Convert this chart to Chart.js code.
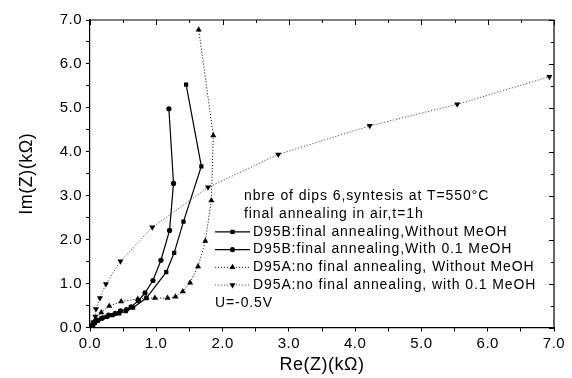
<!DOCTYPE html>
<html>
<head>
<meta charset="utf-8">
<script src="https://cdn.jsdelivr.net/npm/chart.js@4.4.0/dist/chart.umd.min.js"></script>
<style>
  html, body { margin: 0; padding: 0; background: #fff; }
</style>
</head>
<body>
<canvas id="chart" width="572" height="378"></canvas>
<script>
// legend / annotation text
const headerLines = ['nbre of dips 6,syntesis at T=550°C', 'final annealing in air,t=1h'];
const footerLine = 'U=-0.5V';
const seriesLabels = [
  'D95B:final annealing,Without MeOH',
  'D95B:final annealing,With 0.1 MeOH',
  'D95A:no final annealing, Without MeOH',
  'D95A:no final annealing, with 0.1 MeOH'
];

// axis ticks (kOhm)
const xTicks = [0, 1, 2, 3, 4, 5, 6, 7];
const yTicks = [0, 1, 2, 3, 4, 5, 6, 7];

// D95B, final annealing, without MeOH (squares)
const reB0 = [0.02, 0.04, 0.07, 0.11, 0.17, 0.25, 0.34, 0.44, 0.54, 0.65, 0.85, 1.15, 1.27, 1.41, 1.68, 1.45];
const imB0 = [0.02, 0.07, 0.12, 0.16, 0.20, 0.24, 0.28, 0.32, 0.37, 0.45, 0.67, 1.26, 1.70, 2.41, 3.67, 5.53];

// D95B, final annealing, with 0.1 MeOH (circles)
const reB1 = [0.02, 0.04, 0.07, 0.12, 0.19, 0.28, 0.38, 0.46, 0.55, 0.62, 0.73, 0.83, 0.95, 1.07, 1.20, 1.26, 1.19];
const imB1 = [0.01, 0.05, 0.10, 0.16, 0.22, 0.28, 0.32, 0.38, 0.41, 0.47, 0.61, 0.79, 1.07, 1.53, 2.21, 3.28, 4.98];

// D95A, no final annealing, without MeOH (up triangles)
const reA0 = [0.03, 0.08, 0.17, 0.29, 0.47, 0.72, 0.85, 0.98, 1.17, 1.29, 1.40, 1.51, 1.63, 1.74, 1.83, 1.86, 1.64];
const imA0 = [0.05, 0.18, 0.34, 0.49, 0.59, 0.65, 0.67, 0.67, 0.67, 0.70, 0.82, 1.02, 1.39, 1.97, 2.89, 4.37, 6.78];

// D95A, no final annealing, with 0.1 MeOH (down triangles)
const reA1 = [0.02, 0.05, 0.08, 0.09, 0.15, 0.24, 0.46, 0.94, 1.78, 2.84, 4.22, 5.54, 6.93];
const imA1 = [0.04, 0.12, 0.25, 0.42, 0.67, 0.99, 1.51, 2.28, 3.19, 3.94, 4.59, 5.08, 5.71];

const FONT = '"Liberation Sans", Arial, sans-serif';

function pts(xs, ys) {
  return xs.map((x, i) => ({ x: x, y: ys[i] }));
}

const datasets = [
  { label: seriesLabels[0], data: pts(reB0, imB0), pointStyle: 'rect', pointRadius: 3, borderDash: [], borderColor: '#000', borderWidth: 1.2 },
  { label: seriesLabels[1], data: pts(reB1, imB1), pointStyle: 'circle', pointRadius: 2.6, borderDash: [], borderColor: '#000', borderWidth: 1.2 },
  { label: seriesLabels[2], data: pts(reA0, imA0), pointStyle: 'triangle', pointRadius: 3.5, borderDash: [1.2, 1.8], borderColor: '#222', borderWidth: 1 },
  { label: seriesLabels[3], data: pts(reA1, imA1), pointStyle: 'triangle', pointRotation: 180, pointRadius: 3.5, borderDash: [1.2, 1.8], borderColor: '#555', borderWidth: 1 }
].map(d => Object.assign({
  showLine: true,
  fill: false,
  tension: 0,
  pointBackgroundColor: '#000',
  pointBorderColor: '#000',
  pointBorderWidth: 0
}, d));

const isMajor = v => Math.abs(v - Math.round(v)) < 1e-6 && xTicks.includes(Math.round(v));

// the reference's text is set a little loose
const spacingPlugin = {
  id: 'spacing',
  beforeDraw(chart) { chart.ctx.letterSpacing = '0.5px'; }
};

// inward ticks on top and right, plus frame, plus legend block
const framePlugin = {
  id: 'frame',
  afterDraw(chart) {
    const ctx = chart.ctx;
    const a = chart.chartArea;
    const xs = chart.scales.x, ys = chart.scales.y;
    ctx.save();
    ctx.strokeStyle = '#000';
    ctx.lineWidth = 1.2;
    ctx.beginPath();
    ctx.moveTo(a.left, a.top); ctx.lineTo(a.right, a.top);
    ctx.moveTo(a.right, a.top); ctx.lineTo(a.right, a.bottom);
    ctx.stroke();
    ctx.lineWidth = 1;
    ctx.beginPath();
    for (let v = 0; v <= 7.001; v += 0.5) {
      const len = isMajor(v) ? 5 : 3;
      const px = Math.round(xs.getPixelForValue(v)) + 0.5;
      ctx.moveTo(px, a.top); ctx.lineTo(px, a.top + len);
      const py = Math.round(ys.getPixelForValue(v)) + 0.5;
      ctx.moveTo(a.right, py); ctx.lineTo(a.right - len, py);
    }
    ctx.stroke();

    // legend
    ctx.fillStyle = '#000';
    ctx.font = '14px ' + FONT;
    ctx.letterSpacing = '0.9px';
    ctx.textBaseline = 'middle';
    ctx.textAlign = 'left';
    const rowH = 17.7;
    let y = 196.5;
    headerLines.forEach(t => { ctx.fillText(t, 244, y); y += rowH; });
    chart.data.datasets.forEach(ds => {
      ctx.save();
      ctx.strokeStyle = ds.borderColor;
      ctx.lineWidth = ds.borderWidth;
      ctx.setLineDash(ds.borderDash);
      ctx.beginPath();
      ctx.moveTo(215, y); ctx.lineTo(250, y);
      ctx.stroke();
      ctx.restore();
      Chart.helpers.drawPoint(ctx, {
        pointStyle: ds.pointStyle, rotation: ds.pointRotation || 0,
        radius: ds.pointRadius, borderWidth: 0
      }, 232.5, y);
      ctx.fillText(ds.label, 253, y);
      y += rowH;
    });
    ctx.fillText(footerLine, 215, y);
    ctx.restore();
  }
};

new Chart(document.getElementById('chart'), {
  type: 'scatter',
  data: { datasets: datasets },
  options: {
    responsive: false,
    animation: false,
    layout: { padding: { top: 20, right: 18, left: 0, bottom: 0 } },
    plugins: { legend: { display: false }, tooltip: { enabled: false } },
    scales: {
      x: {
        type: 'linear', min: 0, max: 7,
        afterFit(s) { s.height = 50.5; },
        border: { color: '#000', width: 1.2 },
        grid: { drawOnChartArea: false, color: '#000', tickLength: 4 },
        ticks: {
          stepSize: 0.5, autoSkip: false, maxRotation: 0, padding: 3,
          color: '#000', font: { family: FONT, size: 15 },
          callback: v => isMajor(v) ? v.toFixed(1) : ''
        },
        title: { display: true, text: 'Re(Z)(kΩ)', color: '#000', font: { family: FONT, size: 18 }, padding: { top: 0, bottom: 2 } }
      },
      y: {
        type: 'linear', min: 0, max: 7,
        afterFit(s) { s.width = 90; },
        border: { color: '#000', width: 1.2 },
        grid: { drawOnChartArea: false, color: '#000', tickLength: 4 },
        ticks: {
          stepSize: 0.5, autoSkip: false, padding: 4,
          color: '#000', font: { family: FONT, size: 15 },
          callback: v => isMajor(v) ? v.toFixed(1) : ''
        },
        title: { display: true, text: 'Im(Z)(kΩ)', color: '#000', font: { family: FONT, size: 18 }, padding: { top: 16, bottom: 0 } }
      }
    }
  },
  plugins: [spacingPlugin, framePlugin]
});
</script>
</body>
</html>
